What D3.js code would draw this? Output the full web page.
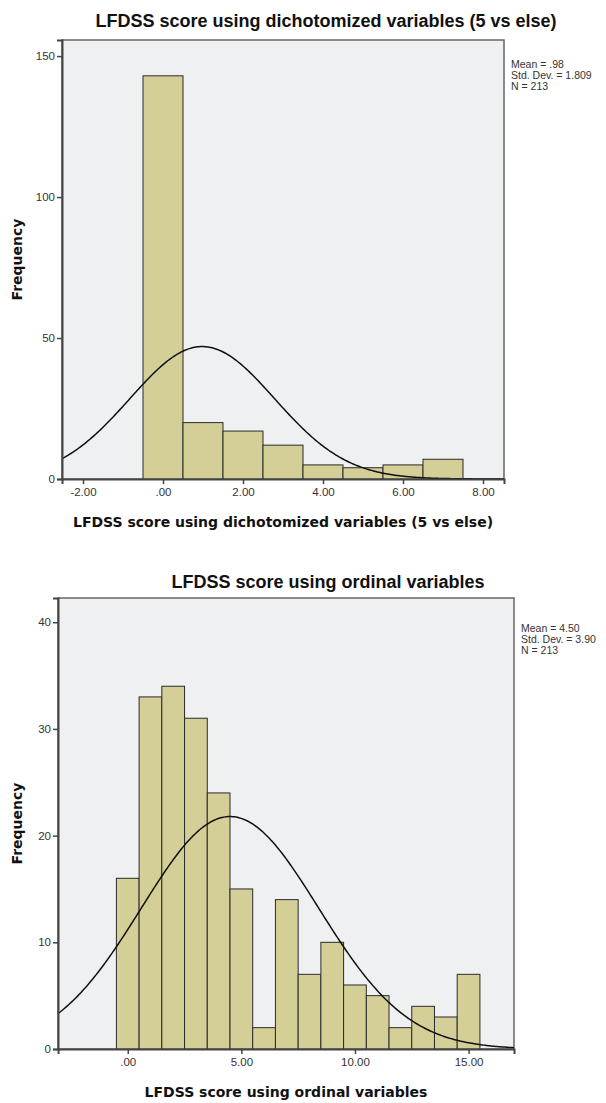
<!DOCTYPE html>
<html>
<head>
<meta charset="utf-8">
<script src="https://cdn.jsdelivr.net/npm/d3@7/dist/d3.min.js"></script>
<style>
  body { margin: 0; background: #fff; }
  svg { display: block; }
  .tick-label { font-family: "Liberation Sans", Arial, sans-serif; font-size: 11.5px; fill: #333; }
  .chart-title { font-family: "Liberation Sans", Arial, sans-serif; font-size: 18px; font-weight: bold; fill: #111; }
  .axis-title { font-family: "DejaVu Sans", Verdana, sans-serif; font-size: 14px; font-weight: bold; fill: #111; }
  .stats { font-family: "Liberation Sans", Arial, sans-serif; font-size: 10.5px; fill: #333; }
</style>
</head>
<body>
<svg id="canvas" width="606" height="1103"></svg>
<script>
// top histogram: dichotomized variables
const TOP_TITLE = "LFDSS score using dichotomized variables (5 vs else)"
const TOP_BINS = [0, 1, 2, 3, 4, 5, 6, 7]
const TOP_COUNTS = [143, 20, 17, 12, 5, 4, 5, 7]
const TOP_Y_TICKS = [0, 50, 100, 150]
const TOP_X_TICKS = [-2, 0, 2, 4, 6, 8]
const TOP_X_LABELS = ["-2.00", ".00", "2.00", "4.00", "6.00", "8.00"]
const TOP_STATS = ["Mean = .98", "Std. Dev. = 1.809", "N = 213"]
const TOP_MEAN = 0.98, TOP_SD = 1.809, TOP_N = 213

// bottom histogram: ordinal variables
const BOTTOM_TITLE = "LFDSS score using ordinal variables"
const BOTTOM_BINS = [0, 1, 2, 3, 4, 5, 6, 7, 8, 9, 10, 11, 12, 13, 14, 15]
const BOTTOM_COUNTS = [16, 33, 34, 31, 24, 15, 2, 14, 7, 10, 6, 5, 2, 4, 3, 7]
const BOTTOM_Y_TICKS = [0, 10, 20, 30, 40]
const BOTTOM_X_TICKS = [0, 5, 10, 15]
const BOTTOM_X_LABELS = [".00", "5.00", "10.00", "15.00"]
const BOTTOM_STATS = ["Mean = 4.50", "Std. Dev. = 3.90", "N = 213"]
const BOTTOM_MEAN = 4.50, BOTTOM_SD = 3.90, BOTTOM_N = 213

const BAR_FILL = "#d4cf97"
const PLOT_BG = "#eef0f2"

let canvas = d3.select('#canvas')

let drawHistogram = (cfg) => {
    let x = d3.scaleLinear().domain(cfg.xDomain).range([cfg.left, cfg.right])
    let y = d3.scaleLinear().domain(cfg.yDomain).range([cfg.bottom, cfg.top])

    let g = canvas.append('g')

    // plot background + frame
    g.append('rect')
        .attr('x', cfg.left)
        .attr('y', cfg.top)
        .attr('width', cfg.right - cfg.left)
        .attr('height', cfg.bottom - cfg.top)
        .attr('fill', PLOT_BG)
        .attr('stroke', '#666')
        .attr('stroke-width', 1.5)

    // bars, one unit wide, centred on the bin value
    g.selectAll('rect.bar')
        .data(cfg.bins)
        .enter()
        .append('rect')
        .attr('class', 'bar')
        .attr('x', (d) => x(d - 0.5))
        .attr('y', (d, i) => y(cfg.counts[i]))
        .attr('width', (d) => x(d + 0.5) - x(d - 0.5))
        .attr('height', (d, i) => y(0) - y(cfg.counts[i]))
        .attr('fill', BAR_FILL)
        .attr('stroke', '#2b2b2b')
        .attr('stroke-width', 1)

    // fitted normal curve from the reported mean / sd / N
    let normal = (v) => cfg.n / (cfg.sd * Math.sqrt(2 * Math.PI)) *
        Math.exp(-0.5 * Math.pow((v - cfg.mean) / cfg.sd, 2))
    let pts = d3.range(0, 301).map((i) => {
        let v = cfg.xDomain[0] + (cfg.xDomain[1] - cfg.xDomain[0]) * i / 300
        return [v, normal(v)]
    })
    g.append('path')
        .datum(pts)
        .attr('fill', 'none')
        .attr('stroke', '#111')
        .attr('stroke-width', 1.5)
        .attr('d', d3.line().x((d) => x(d[0])).y((d) => y(d[1])))

    // axes
    let yAxis = d3.axisLeft(y).tickValues(cfg.yTicks).tickSize(5).tickPadding(2)
    let yg = g.append('g')
        .attr('transform', 'translate(' + cfg.left + ',0)')
        .call(yAxis)
    let xAxis = d3.axisBottom(x).tickValues(cfg.xTicks).tickSize(5).tickPadding(4)
        .tickFormat((d, i) => cfg.xLabels[i])
    let xg = g.append('g')
        .attr('transform', 'translate(0,' + cfg.bottom + ')')
        .call(xAxis)

    ;[yg, xg].forEach((ax) => {
        ax.select('.domain').attr('stroke', '#444').attr('stroke-width', 2)
        ax.selectAll('.tick line').attr('stroke', '#444').attr('stroke-width', 1.5)
        ax.selectAll('.tick text').attr('class', 'tick-label').attr('font-family', null).attr('font-size', null).attr('fill', null)
    })

    // titles
    g.append('text')
        .attr('class', 'chart-title')
        .attr('x', cfg.titleX)
        .attr('y', cfg.titleY)
        .attr('text-anchor', 'middle')
        .text(cfg.title)

    g.append('text')
        .attr('class', 'axis-title')
        .attr('x', (cfg.left + cfg.right) / 2)
        .attr('y', cfg.bottom + 48)
        .attr('text-anchor', 'middle')
        .text(cfg.title)

    g.append('text')
        .attr('class', 'axis-title')
        .attr('transform', 'translate(' + 22 + ',' + ((cfg.top + cfg.bottom) / 2) + ') rotate(-90)')
        .attr('text-anchor', 'middle')
        .text('Frequency')

    // stats box
    g.append('g')
        .selectAll('text')
        .data(cfg.stats)
        .enter()
        .append('text')
        .attr('class', 'stats')
        .attr('x', cfg.right + 7)
        .attr('y', (d, i) => cfg.statsY + i * 11)
        .text((d) => d)
}

drawHistogram({
    title: TOP_TITLE, bins: TOP_BINS, counts: TOP_COUNTS,
    yTicks: TOP_Y_TICKS, xTicks: TOP_X_TICKS, xLabels: TOP_X_LABELS,
    stats: TOP_STATS, mean: TOP_MEAN, sd: TOP_SD, n: TOP_N,
    xDomain: [-2.525, 8.525], yDomain: [0, 155.7],
    left: 62, right: 504, top: 40, bottom: 479,
    titleX: 326, titleY: 27, statsY: 68
})

drawHistogram({
    title: BOTTOM_TITLE, bins: BOTTOM_BINS, counts: BOTTOM_COUNTS,
    yTicks: BOTTOM_Y_TICKS, xTicks: BOTTOM_X_TICKS, xLabels: BOTTOM_X_LABELS,
    stats: BOTTOM_STATS, mean: BOTTOM_MEAN, sd: BOTTOM_SD, n: BOTTOM_N,
    xDomain: [-3.07, 17.0], yDomain: [0, 42.27],
    left: 58, right: 514, top: 598, bottom: 1049,
    titleX: 328, titleY: 588, statsY: 632
})
</script>
</body>
</html>
